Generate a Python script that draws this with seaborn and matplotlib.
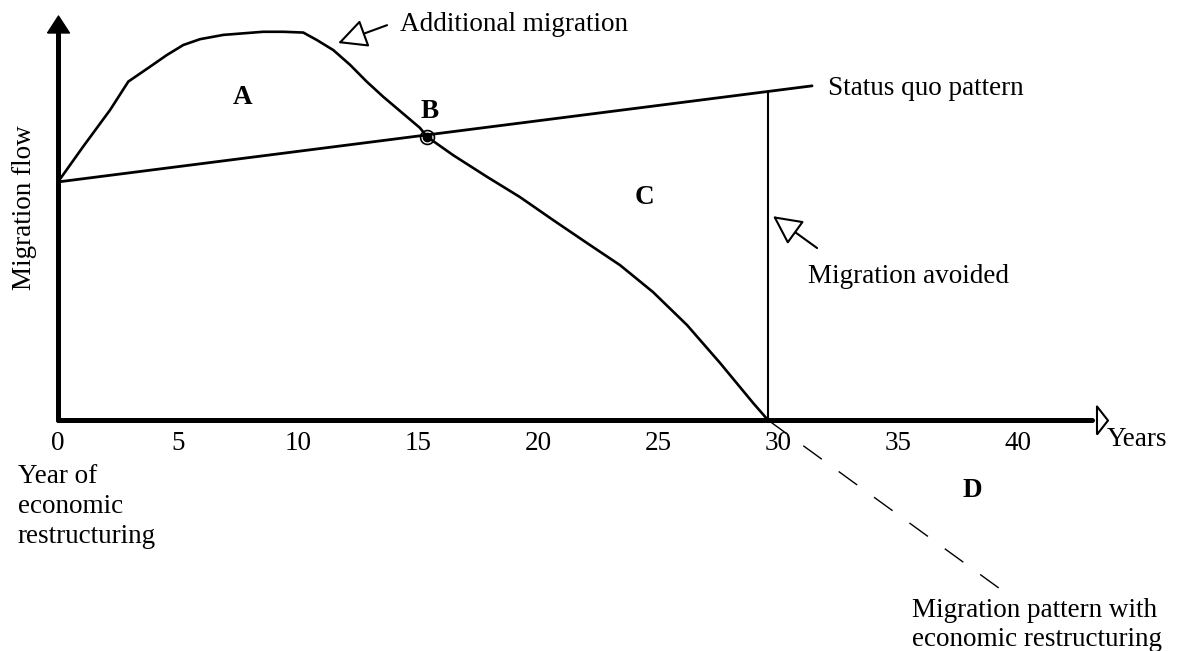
import numpy as np
import matplotlib
matplotlib.use('Agg')
from matplotlib import pyplot as plt
import seaborn as sns

# values (years, flow in arbitrary units, peak = 100)
restruct_years = [0, 1.05, 2.17, 2.93, 3.83, 4.53, 5.22, 5.92, 6.89, 7.72, 8.55,
                  9.39, 10.22, 10.78, 11.47, 12.17, 12.86, 13.55, 15.08, 15.38,
                  16.46, 17.88, 19.25, 20.63, 22.04, 23.42, 24.79, 26.21, 27.58,
                  28.96, 29.58]
restruct_flow = [61.2, 70.3, 79.7, 87.0, 90.8, 93.8, 96.4, 97.9, 99.0, 99.4, 99.8,
                 99.8, 99.6, 97.7, 95.1, 91.3, 87.0, 83.1, 75.1, 72.8,
                 68.1, 62.5, 57.3, 51.4, 45.5, 39.8, 32.9, 24.4, 14.7,
                 4.4, 0]
status_years = [0, 31.42]
status_flow = [61.2, 85.9]
beyond_years = [29.58, 39.38]
beyond_flow = [0, -44.0]
point_b = (15.38, 72.8)
tick_years = [0, 5, 10, 15, 20, 25, 30, 35, 40]

sns.set_theme(style="white")
plt.rcParams['font.family'] = ['Liberation Serif', 'DejaVu Serif']
plt.rcParams['text.color'] = 'black'

fig = plt.figure(figsize=(11.93, 6.51), dpi=100)
ax = fig.add_axes([0, 0, 1, 1])
ax.set_xlim(-58 / 24.0, (1193 - 58) / 24.0)
ax.set_ylim(-231 / 3.89, 420 / 3.89)
ax.patch.set_alpha(0)

# axes drawn through the origin
for side in ['top', 'right']:
    ax.spines[side].set_visible(False)
ax.spines['left'].set_position(('data', 0))
ax.spines['bottom'].set_position(('data', 0))
ax.spines['left'].set_bounds(0, 99.7)
ax.spines['bottom'].set_bounds(0, 43.1)
for side in ['left', 'bottom']:
    ax.spines[side].set_linewidth(3.6)
    ax.spines[side].set_color('black')
    ax.spines[side].set_capstyle('round')
ax.set_xticks(tick_years)
ax.set_yticks([])
ax.tick_params(axis='x', length=0, labelsize=19.5, pad=8, labelcolor='black')

# arrow heads of the axes
ax.plot(0, 101.9, marker=[(-11, -8.5), (11, -8.5), (0, 8.5), (-11, -8.5)], ms=15.8,
        color='black', clip_on=False)
ax.plot(43.52, 0, marker=[(-5.5, -14), (5.5, 0), (-5.5, 14), (-5.5, -14)], ms=20.2,
        mfc='white', mec='black', mew=1.5, clip_on=False)

# status quo, restructuring path and its continuation
sns.lineplot(x=status_years, y=status_flow, ax=ax, color='black', lw=2.0)
sns.lineplot(x=restruct_years, y=restruct_flow, ax=ax, color='black', lw=1.9,
             sort=False, estimator=None)
sns.lineplot(x=beyond_years, y=beyond_flow, ax=ax, color='black', lw=1.0,
             linestyle=(0, (16.5, 15)))
avoided_top = np.interp(beyond_years[0], status_years, status_flow)
ax.vlines(beyond_years[0], 0, avoided_top, color='black', lw=1.5)

ax.plot(*point_b, marker='o', ms=10, mfc='none', mec='black', mew=1.2)
ax.plot(*point_b, marker='o', ms=6, color='black')

# labels
big = dict(fontsize=19.5, fontweight='bold', ha='center', va='center', color='black')
ax.text(7.71, 83.0, 'A', **big)
ax.text(15.5, 79.2, 'B', **big)
ax.text(24.42, 57.1, 'C', **big)
ax.text(38.08, -18.0, 'D', **big)

txt = dict(fontsize=19.5, color='black')
ax.text(14.25, 100.0, 'Additional migration', ha='left', va='baseline', **txt)
ax.text(32.08, 85.3, 'Status quo pattern', ha='left', va='center', **txt)
ax.text(31.25, 37.0, 'Migration avoided', ha='left', va='center', **txt)
ax.text(43.71, -5.1, 'Years', ha='left', va='center', **txt)
ax.text(-1.4, 54.5, 'Migration flow', rotation=90, ha='center', va='center', **txt)
ax.text(-1.67, -22.3, 'Year of\neconomic\nrestructuring', ha='left', va='center',
        linespacing=1.27, **txt)
ax.text(35.58, -52.6, 'Migration pattern with\neconomic restructuring', ha='left',
        va='center', linespacing=1.2, **txt)

arrow = dict(arrowstyle='-|>,head_length=0.9,head_width=0.45', fc='white',
             ec='black', lw=1.5, mutation_scale=20, shrinkA=0, shrinkB=0)
ax.annotate('', xy=(11.67, 96.9), xytext=(13.71, 101.5), arrowprops=arrow)
ax.annotate('', xy=(29.79, 52.4), xytext=(31.63, 44.2), arrowprops=arrow)

fig.savefig('out.png', dpi=100)
